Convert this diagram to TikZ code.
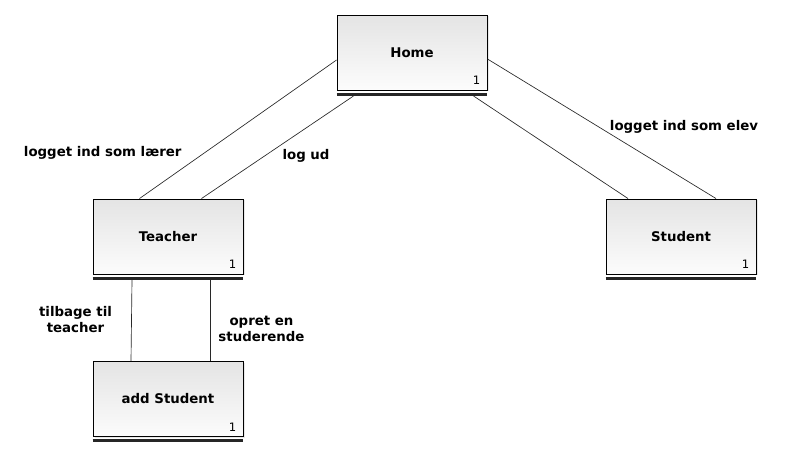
\documentclass[tikz,border=0pt]{standalone}
\usepackage{fontspec}
\setmainfont{DejaVu Sans}
\usetikzlibrary{shadows}
\definecolor{boxtop}{RGB}{228,228,228}
\definecolor{boxbot}{RGB}{252,252,252}
\definecolor{wire}{RGB}{40,40,40}
\tikzset{
  every node/.append style={font=\bfseries\normalsize},
  state/.style={draw, line width=0.7pt, minimum width=112.5pt, minimum height=56.25pt,
    inner sep=0pt, top color=boxtop, bottom color=boxbot,
    drop shadow={shadow xshift=1.3pt, shadow yshift=-0.9pt, opacity=0.18}},
  bar/.style={line width=2.3pt, draw=black!85},
  mult/.style={font=\mdseries\fontsize{8.7}{10}\selectfont, inner sep=0pt},
  wire/.style={draw=wire, line width=0.5pt},
  lbl/.style={align=center, inner sep=0pt}
}

\begin{document}
\begin{tikzpicture}[x=0.75pt, y=-0.75pt]
    \useasboundingbox (0,0) rectangle (785,457);

    \node[state] (home) at (412,52.5) {Home};
    \node[state] (teacher) at (168,236.5) {Teacher};
    \node[state] (student) at (681,236.5) {Student};
    \node[state] (addst) at (168,399) {add Student};

    \foreach \n in {home,teacher,student,addst} {
      \draw[bar] ([shift={(0,3.6)}]\n.south west) -- ([shift={(0,3.6)}]\n.south east);
      \node[mult] (\n-m) at ([shift={(-11,-10)}]\n.south east) {1};
    }

    \draw[wire] ([shift={(0,7.5)}]home.west) -- ([shift={(-28.5,0)}]teacher.north);
    \draw[wire] ([shift={(17,5.5)}]home.south west) -- ([shift={(33.5,0)}]teacher.north);
    \draw[wire] ([shift={(-14,5.5)}]home.south east) -- ([shift={(-53,0)}]student.north);
    \draw[wire] ([shift={(0,6.5)}]home.east) -- ([shift={(35,0)}]student.north);
    \draw[wire] ([shift={(-36,5.5)}]teacher.south) -- ([shift={(-37,0)}]addst.north);
    \draw[wire] ([shift={(42,5.5)}]teacher.south) -- ([shift={(42,0)}]addst.north);

    \node[lbl] (l-laerer) at (102.7,153) {logget ind som lærer};
    \node[lbl] (l-logud) at (306,156) {log ud};
    \node[lbl] (l-elev) at (684,127) {logget ind som elev};
    \node[lbl] (l-tilbage) at (75.5,319.5) {tilbage til\\teacher};
    \node[lbl] (l-opret) at (261.5,329) {opret en\\studerende};
\end{tikzpicture}
\end{document}
